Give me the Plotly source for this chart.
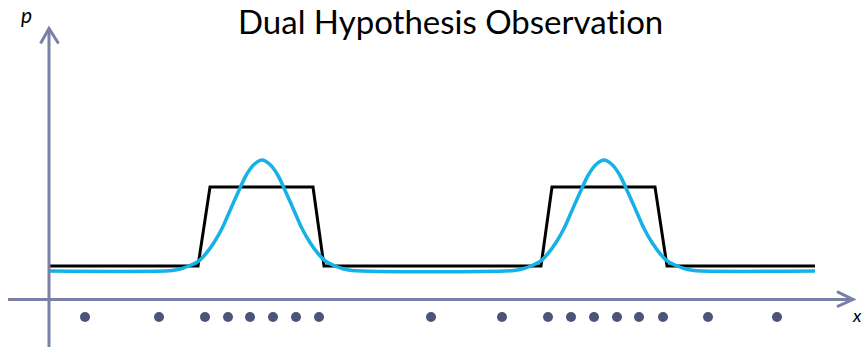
import plotly.graph_objects as go

# ---- data (data units: origin at the axes crossing) ----
black_x = [1, 149, 161, 264, 275, 492, 503, 606, 618, 766]
black_y = [33.5, 33.5, 112.5, 112.5, 33.5, 33.5, 112.5, 112.5, 33.5, 33.5]

cyan_x = [1,
          123, 133, 141, 149, 157, 165, 173, 181, 189, 197, 205, 213,
          221, 229, 237, 245, 253, 261, 269, 277, 285, 293, 303,
          465, 475, 483, 491, 499, 507, 515, 523, 531, 539, 547, 555,
          563, 571, 579, 587, 595, 603, 611, 619, 627, 635, 645,
          766]
cyan_y = [28.5,
          29, 31, 34, 38, 46, 57, 71, 89, 107, 124, 135, 139.5,
          135, 124, 107, 89, 71, 57, 46, 38, 34, 31, 29,
          29, 31, 34, 38, 46, 57, 71, 89, 107, 124, 135, 139.5,
          135, 124, 107, 89, 71, 57, 46, 38, 34, 31, 29,
          28.5]

obs_x = [36, 110, 156, 179, 201, 224, 247, 270, 382, 453, 499, 522, 545, 568, 590, 614, 659, 728]
obs_y = [-17.5] * len(obs_x)

title_text = "Dual Hypothesis Observat\u200cion"
x_label = "x"
y_label = "p"

AXIS = "#7a80a8"

fig = go.Figure()
fig.add_trace(go.Scatter(x=black_x, y=black_y, mode="lines",
                         line=dict(color="black", width=3), hoverinfo="skip"))
fig.add_trace(go.Scatter(x=cyan_x, y=cyan_y, mode="lines",
                         line=dict(color="#16b1e6", width=3.5, shape="spline", smoothing=0.8),
                         hoverinfo="skip"))
fig.add_trace(go.Scatter(x=obs_x, y=obs_y, mode="markers",
                         marker=dict(color="#4d5479", size=10, line=dict(width=0)),
                         hoverinfo="skip"))

# axes with open arrowheads
shapes = [
    dict(type="line", x0=-41, y0=0, x1=804, y1=0, line=dict(color=AXIS, width=3)),
    dict(type="line", x0=0, y0=-47.5, x1=0, y1=271, line=dict(color=AXIS, width=3)),
    dict(type="path", path="M -8.5,256 L 0,271 L 9.5,256", line=dict(color=AXIS, width=3)),
    dict(type="path", path="M 788,7.8 L 804,0 L 788,-7.2", line=dict(color=AXIS, width=3)),
]

annotations = [
    dict(x=401, y=279, xref="x", yref="y", text=title_text, showarrow=False,
         font=dict(family="Lato", size=33, color="black"), xanchor="center", yanchor="middle"),
    dict(x=-23, y=285, xref="x", yref="y", text=y_label, showarrow=False,
         font=dict(family="Lato", size=21, color="black", style="italic"),
         xanchor="center", yanchor="middle"),
    dict(x=1.0, y=-15, xref="paper", yref="y", text=x_label, showarrow=False,
         font=dict(family="Lato", size=18, color="black", style="italic"),
         xanchor="right", yanchor="middle", borderpad=0),
]

fig.update_layout(
    width=863, height=347,
    margin=dict(l=0, r=0, t=0, b=0),
    paper_bgcolor="white", plot_bgcolor="white",
    showlegend=False,
    hovermode=False,
    xaxis=dict(range=[-49, 814], visible=False, fixedrange=True),
    yaxis=dict(range=[-47.5, 299.5], visible=False, fixedrange=True),
    shapes=shapes,
    annotations=annotations,
)

fig.write_html("out.html",
               config={"displayModeBar": False, "staticPlot": True},
               post_script="document.body.style.margin='0';document.body.style.overflow='hidden';")
